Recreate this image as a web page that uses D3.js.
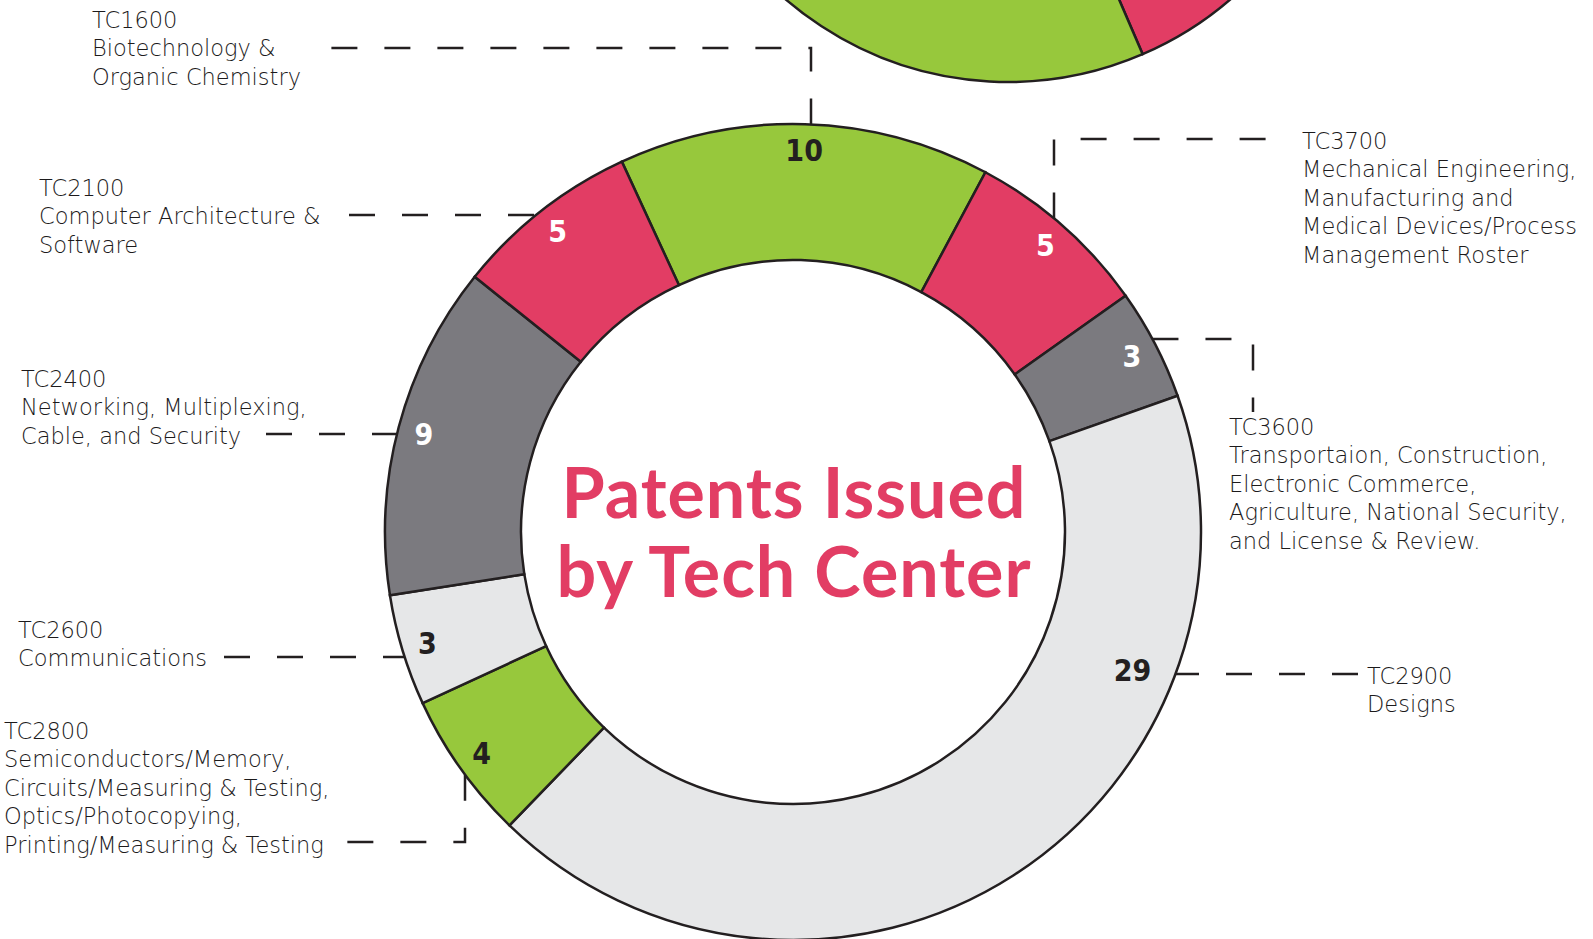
<!DOCTYPE html>
<html>
<head>
<meta charset="utf-8">
<script src="https://cdn.jsdelivr.net/npm/d3@7"></script>
<style>
    body { margin: 0; background: #ffffff; overflow: hidden; }
    .desc { font-family: "DejaVu Sans", sans-serif; font-weight: 300; font-size: 22.5px; fill: #1c1a1b; }
    .count { font-family: "Liberation Sans Narrow", "DejaVu Sans Condensed", sans-serif; font-weight: bold; font-size: 30px; }
    .title { font-family: Lato, sans-serif; font-weight: bold; font-size: 70px; letter-spacing: 1px; fill: #e23d64; }
</style>
</head>
<body>
<div id="chart"></div>
<script>
// tech centers, clockwise from the top of the ring
const centers = ["TC1600", "TC3700", "TC3600", "TC2900", "TC2800", "TC2600", "TC2400", "TC2100"];
const patents = [10, 5, 3, 29, 4, 3, 9, 5];
const descriptions = [
    ["Biotechnology &", "Organic Chemistry"],
    ["Mechanical Engineering,", "Manufacturing and", "Medical Devices/Process", "Management Roster"],
    ["Transportaion, Construction,", "Electronic Commerce,", "Agriculture, National Security,", "and License & Review."],
    ["Designs"],
    ["Semiconductors/Memory,", "Circuits/Measuring & Testing,", "Optics/Photocopying,", "Printing/Measuring & Testing"],
    ["Communications"],
    ["Networking, Multiplexing,", "Cable, and Security"],
    ["Computer Architecture &", "Software"]
];
const titleLines = ["Patents Issued", "by Tech Center"];

// neighbouring chart above, only its lower edge is on the page
const topCategories = ["red", "green"];
const topValues = [5, 10];

class DonutVis {
    constructor(parentElement) {
        this.parentElement = parentElement;
        this.initVis();
    }

    initVis() {
        let vis = this;

        vis.width = 1593;
        vis.height = 939;
        vis.cx = 793;
        vis.cy = 532;
        vis.rOuter = 408;
        vis.rInner = 272;

        vis.svg = d3.select("#" + vis.parentElement).append("svg")
            .attr("width", vis.width)
            .attr("height", vis.height);

        vis.color = d3.scaleOrdinal()
            .domain(centers)
            .range(["#97c83c", "#e23d64", "#7b7a7f", "#e6e7e8", "#97c83c", "#e6e7e8", "#7b7a7f", "#e23d64"]);

        vis.textColor = d3.scaleOrdinal()
            .domain(centers)
            .range(["#231f20", "#ffffff", "#ffffff", "#231f20", "#231f20", "#231f20", "#ffffff", "#ffffff"]);

        // where the dashed leaders start (next to the text) and bend
        vis.leaders = {
            TC1600: {tx: 92, ty: 28, from: [305, 48], bend: [811, 48], dir: "v"},
            TC2100: {tx: 39, ty: 196, from: [349, 215], dir: "h"},
            TC2400: {tx: 21, ty: 387, from: [266, 434], dir: "h"},
            TC2600: {tx: 18, ty: 638, from: [224, 657], dir: "h"},
            TC2800: {tx: 4, ty: 739, from: [333, 842], bend: [465, 842], dir: "v"},
            TC3700: {tx: 1302, ty: 149, from: [1290, 139], bend: [1054, 139], dir: "v"},
            TC3600: {tx: 1229, ty: 435, from: [1253, 412], bend: [1253, 339], dir: "h"},
            TC2900: {tx: 1367, ty: 684, from: [1358, 674], dir: "h"}
        };

        vis.wrangleData();
    }

    wrangleData() {
        let vis = this;

        vis.displayData = centers.map((c, i) => ({center: c, value: patents[i], lines: descriptions[i]}));

        vis.pie = d3.pie()
            .sort(null)
            .value(d => d.value)
            .startAngle(-24.8 * Math.PI / 180)
            .endAngle(-24.8 * Math.PI / 180 + 2 * Math.PI);

        vis.topData = topCategories.map((c, i) => ({center: c, value: topValues[i]}));
        vis.topPie = d3.pie()
            .sort(null)
            .value(d => d.value)
            .startAngle(100 * Math.PI / 180)
            .endAngle(270 * Math.PI / 180);

        vis.updateVis();
    }

    // point where a horizontal or vertical leader meets the outer ring
    ringPoint(p, dir) {
        let vis = this;
        if (dir === "h") {
            let dx = Math.sqrt(vis.rOuter * vis.rOuter - (p[1] - vis.cy) ** 2);
            return [p[0] < vis.cx ? vis.cx - dx : vis.cx + dx, p[1]];
        }
        let dy = Math.sqrt(vis.rOuter * vis.rOuter - (p[0] - vis.cx) ** 2);
        return [p[0], p[1] < vis.cy ? vis.cy - dy : vis.cy + dy];
    }

    updateVis() {
        let vis = this;

        // partial chart at the top
        let topArc = d3.arc().innerRadius(0).outerRadius(340);
        vis.svg.append("g")
            .attr("transform", "translate(1008,-258)")
            .selectAll("path")
            .data(vis.topPie(vis.topData))
            .enter()
            .append("path")
            .attr("d", topArc)
            .attr("fill", d => d.data.center === "red" ? "#e23d64" : "#97c83c")
            .attr("stroke", "#231f20")
            .attr("stroke-width", 2.5);

        // leaders; the bent ones are dashed from the ring outwards
        let line = d3.line();
        vis.svg.append("g")
            .selectAll("path")
            .data(vis.displayData)
            .enter()
            .append("path")
            .attr("d", d => {
                let l = vis.leaders[d.center];
                let pts = [l.from];
                if (l.bend) pts.push(l.bend);
                pts.push(vis.ringPoint(pts[pts.length - 1], l.dir));
                if (l.bend) pts.reverse();
                return line(pts);
            })
            .attr("fill", "none")
            .attr("stroke", "#231f20")
            .attr("stroke-width", 2.5)
            .attr("stroke-dasharray", "26,27");

        // ring
        let arc = d3.arc().innerRadius(vis.rInner).outerRadius(vis.rOuter);
        let ring = vis.svg.append("g")
            .attr("transform", `translate(${vis.cx},${vis.cy})`);

        let slices = vis.pie(vis.displayData);

        ring.selectAll(".slice")
            .data(slices)
            .enter()
            .append("path")
            .attr("class", "slice")
            .attr("d", arc)
            .attr("fill", d => vis.color(d.data.center))
            .attr("stroke", "#231f20")
            .attr("stroke-width", 2.5);

        // counts, the wide slice gets its count beside the leader
        let labelArc = d3.arc().innerRadius(382).outerRadius(382);
        ring.selectAll(".count")
            .data(slices)
            .enter()
            .append("text")
            .attr("class", "count")
            .attr("text-anchor", "middle")
            .attr("dy", "0.36em")
            .attr("fill", d => vis.textColor(d.data.center))
            .attr("transform", d => {
                if (d.endAngle - d.startAngle > Math.PI / 2) {
                    let l = vis.leaders[d.data.center];
                    let p = vis.ringPoint(l.bend || l.from, l.dir);
                    return `translate(${p[0] - vis.cx - 43},${p[1] - vis.cy - 4})`;
                }
                return `translate(${labelArc.centroid(d)})`;
            })
            .text(d => d.data.value);

        // descriptions
        let texts = vis.svg.append("g")
            .selectAll("text")
            .data(vis.displayData)
            .enter()
            .append("text")
            .attr("class", "desc")
            .attr("x", d => vis.leaders[d.center].tx)
            .attr("y", d => vis.leaders[d.center].ty);

        texts.selectAll("tspan")
            .data(d => [d.center].concat(d.lines).map(t => ({t: t, x: vis.leaders[d.center].tx})))
            .enter()
            .append("tspan")
            .attr("x", d => d.x)
            .attr("dy", (d, i) => i === 0 ? 0 : 28.4)
            .text(d => d.t);

        // title in the hole
        vis.svg.append("text")
            .attr("class", "title")
            .attr("text-anchor", "middle")
            .selectAll("tspan")
            .data(titleLines)
            .enter()
            .append("tspan")
            .attr("x", vis.cx + 1)
            .attr("y", (d, i) => 518 + i * 79)
            .text(d => d);
    }
}

new DonutVis("chart");
</script>
</body>
</html>
